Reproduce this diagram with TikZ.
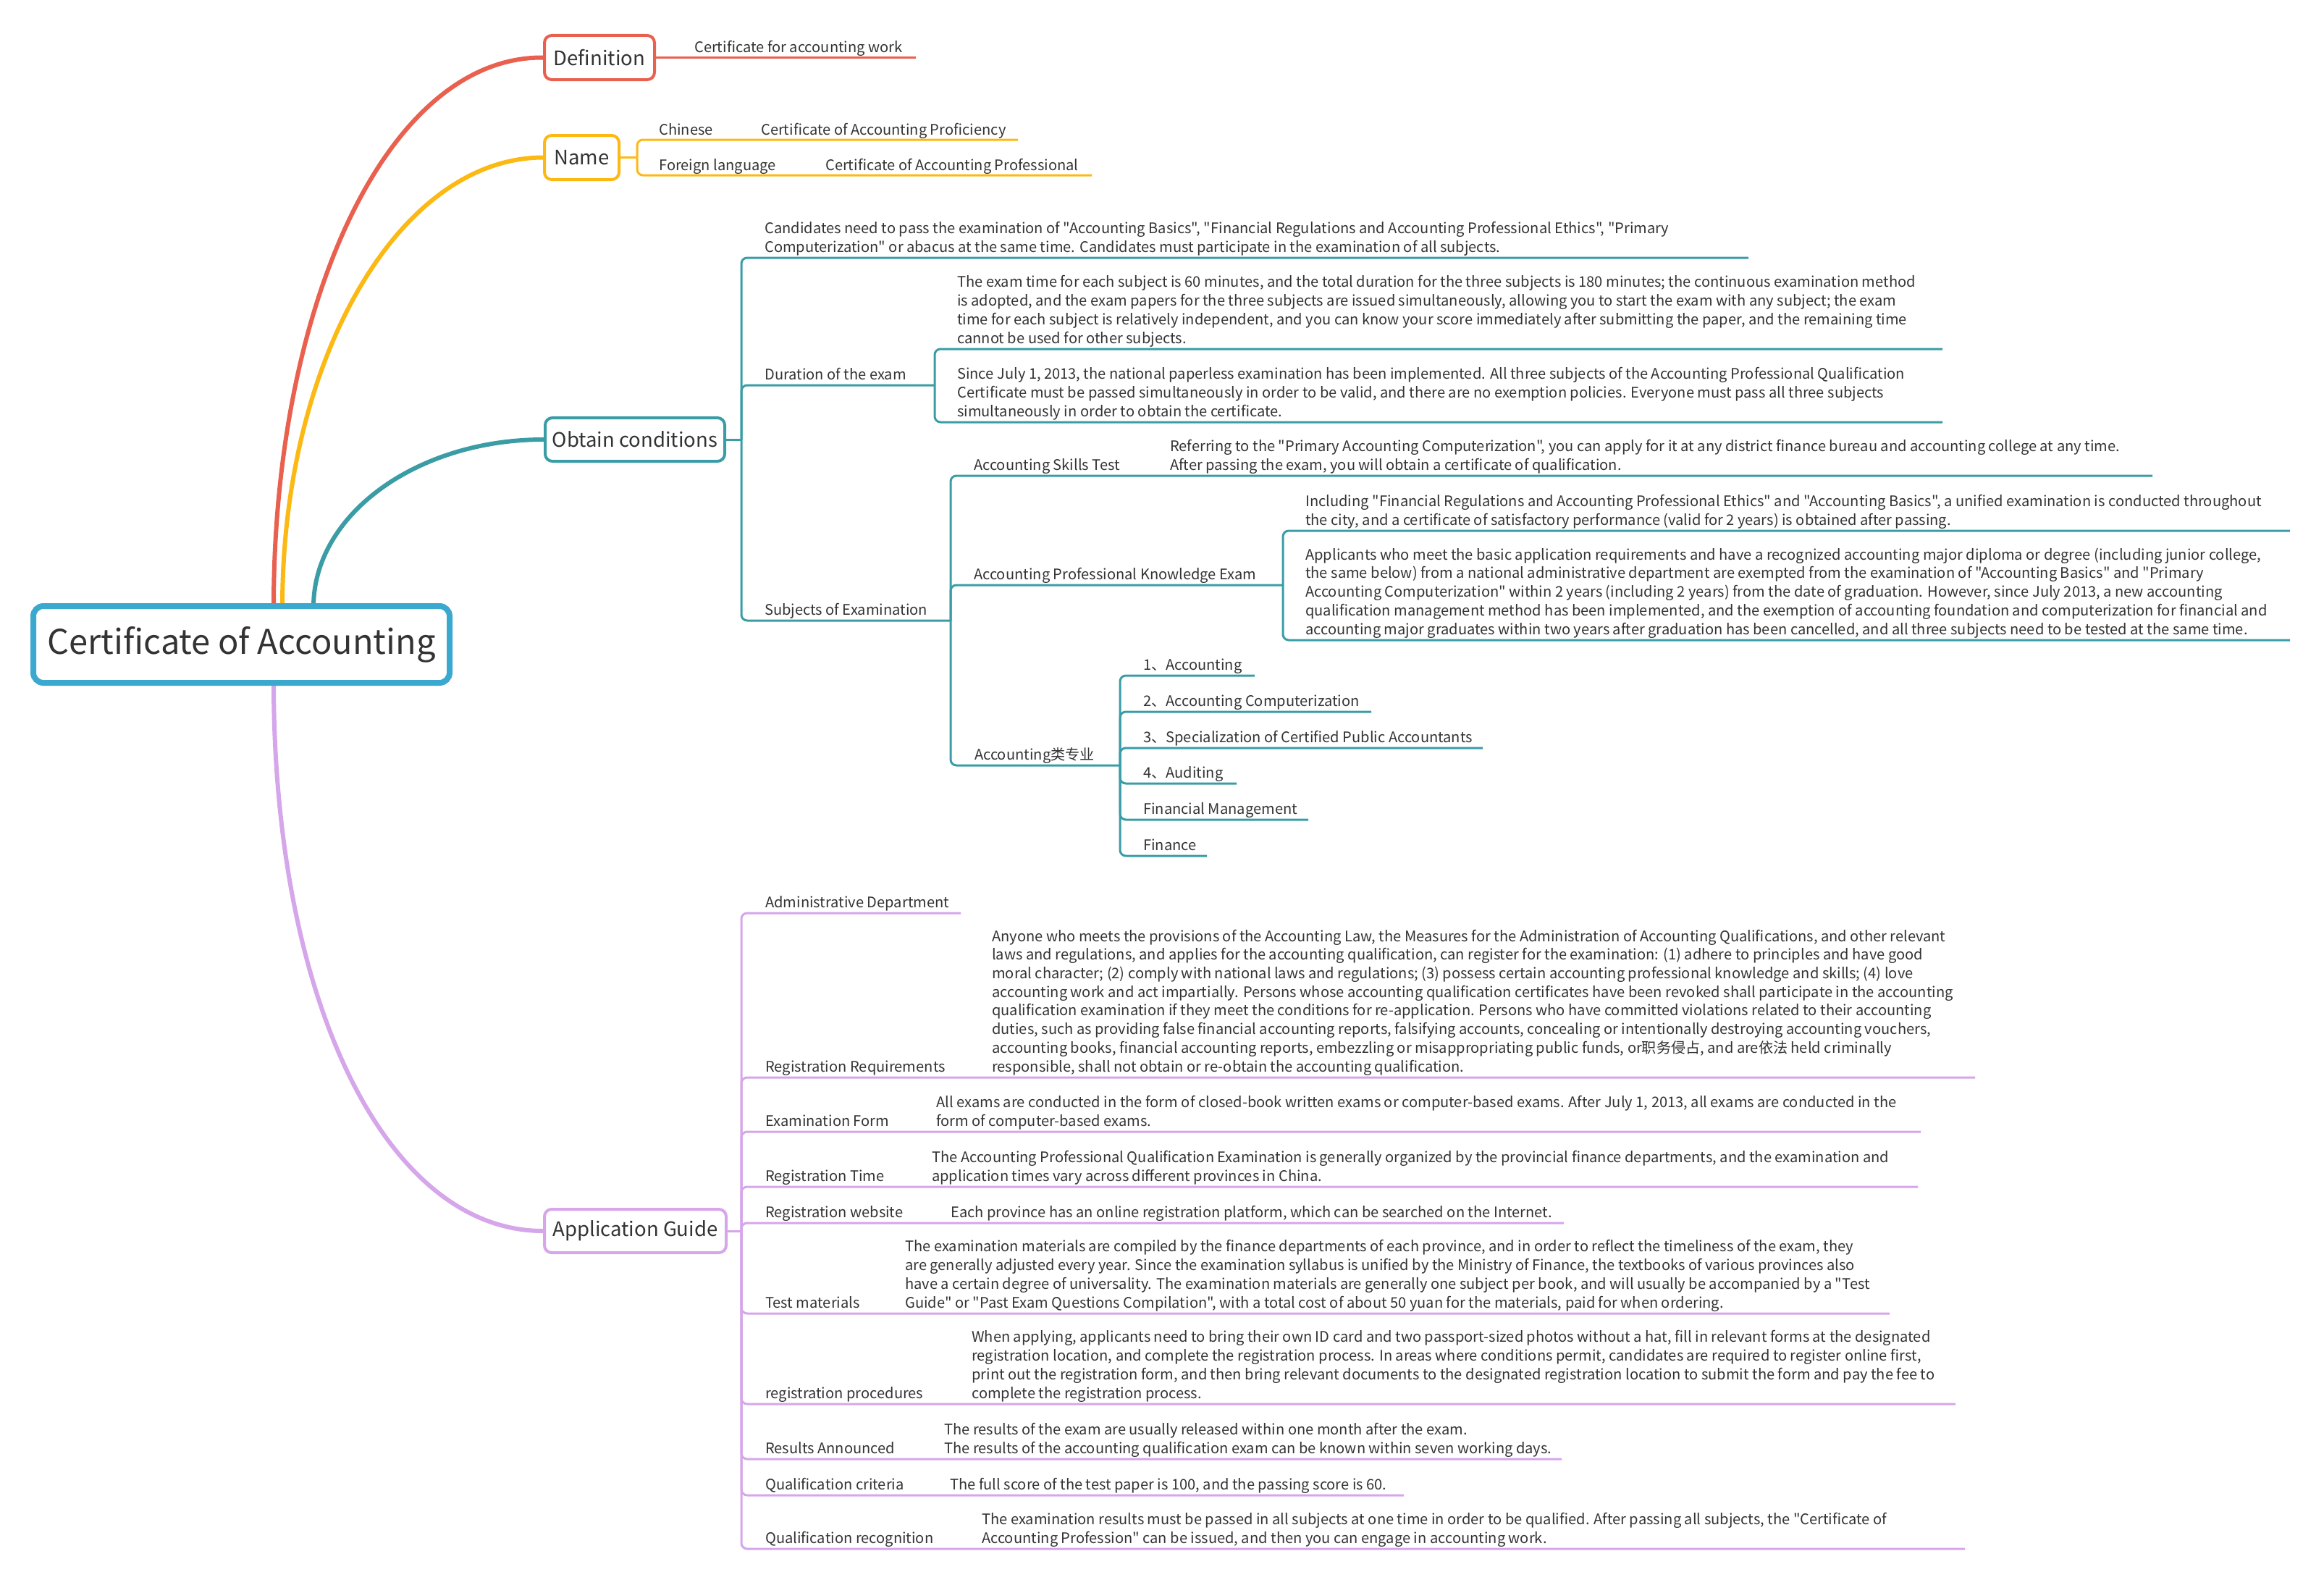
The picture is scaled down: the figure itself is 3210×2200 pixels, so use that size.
\documentclass[tikz,border=0pt]{standalone}
\usepackage{fontspec}
\newfontfamily\nsc{Noto Sans CJK SC}
\usetikzlibrary{backgrounds}
\definecolor{cred}{HTML}{E9604F}
\definecolor{corange}{HTML}{FDB913}
\definecolor{cteal}{HTML}{3A9DA6}
\definecolor{cblue}{HTML}{3BA9CF}
\definecolor{cpurple}{HTML}{D6A6EA}
\definecolor{ctext}{HTML}{333333}
\tikzset{
  txt/.style={anchor=base west, inner sep=0, yshift=-3pt, text=ctext, font=\nsc\fontsize{20.1}{25.7}\selectfont, align=left},
  ttl/.style={draw, line width=4, rounded corners=10, fill=white, text=ctext, font=\nsc\fontsize{27.5}{33}\selectfont, inner sep=0},
  ln/.style={line width=3, rounded corners=8},
  branch/.style={line width=6, line cap=round},
}
\begin{document}
\begin{tikzpicture}[x=1pt, y=-1pt]
\useasboundingbox (0,0) rectangle (3210,2200);
% ---------- root and main boxes
\node[draw=cblue, line width=8, rounded corners=14, fill=white, minimum width=575, minimum height=106, inner sep=0, font=\nsc\fontsize{47}{56}\selectfont, text=ctext] (root) at (333.5,890) {Certificate of Accounting};
\node[ttl, draw=cred, minimum width=152, minimum height=61] (def) at (828,79.5) {Definition};
\node[ttl, draw=corange, minimum width=103, minimum height=61] (name) at (803.5,217.5) {Name};
\node[ttl, draw=cteal, minimum width=248, minimum height=60] (oc) at (877,607) {Obtain conditions};
\node[ttl, draw=cpurple, minimum width=251, minimum height=60] (ag) at (877.5,1700) {Application Guide};
% root branch starts
\coordinate (r-def) at (378,838);
\coordinate (r-name) at (390,838);
\coordinate (r-oc) at (433,838);
\coordinate (r-ag) at (378,942);
\begin{scope}[on background layer]
\draw[branch, cred] (r-def) .. controls (378,419) and (535,78) .. (def.west);
\draw[branch, corange] (r-name) .. controls (390,496) and (551,218) .. (name.west);
\draw[branch, cteal] (r-oc) .. controls (433,711) and (575,607) .. (oc.west);
\draw[branch, cpurple] (r-ag) .. controls (378,1384) and (534,1700) .. (ag.west);
\end{scope}
% ---------- Definition
\node[txt] (defl) at (959,70) {Certificate for accounting work};
\coordinate (defl-e) at (1265,79.5);
\draw[ln, cred] (def.east) -- (defl-e);
% ---------- Name
\coordinate (nm-j) at (880,217.5);
\coordinate (nm1-e) at (1406,193);
\coordinate (nm2-e) at (1508,242);
\draw[ln, corange] (name.east) -- (nm-j);
\draw[ln, corange] (nm-j) |- (nm1-e);
\draw[ln, corange] (nm-j) |- (nm2-e);
\node[txt] (nm1) at (910,183) {Chinese};
\node[txt] (nm1c) at (1051,183) {Certificate of Accounting Proficiency};
\node[txt] (nm2) at (910,232) {Foreign language};
\node[txt] (nm2c) at (1140,232) {Certificate of Accounting Professional};
% ---------- Obtain conditions
\coordinate (oc-j) at (1024,607);
\coordinate (cand-e) at (2415,356);
\coordinate (dur-j) at (1291,532);
\coordinate (dura-e) at (2683,482);
\coordinate (durb-e) at (2683,583);
\coordinate (subj-j) at (1313,857);
\coordinate (sk-e) at (2973,657);
\coordinate (kn-j) at (1772,808);
\coordinate (kna-e) at (3163,733);
\coordinate (knb-e) at (3163,884);
\coordinate (acc-j) at (1547,1057);
\coordinate (m1-e) at (1733,933);
\coordinate (m2-e) at (1894,983);
\coordinate (m3-e) at (2048,1033);
\coordinate (m4-e) at (1708,1082);
\coordinate (m5-e) at (1807,1132);
\coordinate (m6-e) at (1667,1182);
\begin{scope}[ln, cteal]
\draw (oc.east) -- (oc-j);
\draw (oc-j) |- (cand-e);
\draw (oc-j) |- (dur-j);
\draw (dur-j) |- (dura-e);
\draw (dur-j) |- (durb-e);
\draw (oc-j) |- (subj-j);
\draw (subj-j) |- (sk-e);
\draw (subj-j) |- (kn-j);
\draw (kn-j) |- (kna-e);
\draw (kn-j) |- (knb-e);
\draw (subj-j) |- (acc-j);
\draw (acc-j) |- (m1-e);
\draw (acc-j) |- (m2-e);
\draw (acc-j) |- (m3-e);
\draw (acc-j) |- (m4-e);
\draw (acc-j) |- (m5-e);
\draw (acc-j) |- (m6-e);
\end{scope}
\node[txt] (cand) at (1056,345) {Candidates need to pass the examination of "Accounting Basics", "Financial Regulations and Accounting Professional Ethics", "Primary\\Computerization" or abacus at the same time. Candidates must participate in the examination of all subjects.};
\node[txt] (dur) at (1056,521) {Duration of the exam};
\node[txt] (dura) at (1322,471) {The exam time for each subject is 60 minutes, and the total duration for the three subjects is 180 minutes; the continuous examination method\\is adopted, and the exam papers for the three subjects are issued simultaneously, allowing you to start the exam with any subject; the exam\\time for each subject is relatively independent, and you can know your score immediately after submitting the paper, and the remaining time\\cannot be used for other subjects.};
\node[txt] (durb) at (1322,572) {Since July 1, 2013, the national paperless examination has been implemented. All three subjects of the Accounting Professional Qualification\\Certificate must be passed simultaneously in order to be valid, and there are no exemption policies. Everyone must pass all three subjects\\simultaneously in order to obtain the certificate.};
\node[txt] (subj) at (1056,846) {Subjects of Examination};
\node[txt] (sk) at (1345,646) {Accounting Skills Test};
\node[txt] (skc) at (1616,646) {Referring to the "Primary Accounting Computerization", you can apply for it at any district finance bureau and accounting college at any time.\\After passing the exam, you will obtain a certificate of qualification.};
\node[txt] (kn) at (1345,797) {Accounting Professional Knowledge Exam};
\node[txt] (kna) at (1803,722) {Including "Financial Regulations and Accounting Professional Ethics" and "Accounting Basics", a unified examination is conducted throughout\\the city, and a certificate of satisfactory performance (valid for 2 years) is obtained after passing.};
\node[txt] (knb) at (1803,873) {Applicants who meet the basic application requirements and have a recognized accounting major diploma or degree (including junior college,\\the same below) from a national administrative department are exempted from the examination of "Accounting Basics" and "Primary\\Accounting Computerization" within 2 years (including 2 years) from the date of graduation. However, since July 2013, a new accounting\\qualification management method has been implemented, and the exemption of accounting foundation and computerization for financial and\\accounting major graduates within two years after graduation has been cancelled, and all three subjects need to be tested at the same time.};
\node[txt] (acc) at (1346,1046) {Accounting类专业};
\node[txt] (m1) at (1579,922) {1、Accounting};
\node[txt] (m2) at (1579,972) {2、Accounting Computerization};
\node[txt] (m3) at (1579,1022) {3、Specialization of Certified Public Accountants};
\node[txt] (m4) at (1579,1071) {4、Auditing};
\node[txt] (m5) at (1579,1121) {Financial Management};
\node[txt] (m6) at (1579,1171) {Finance};
% ---------- Application Guide
\coordinate (ag-j) at (1024,1700);
\coordinate (a1-e) at (1327,1261);
\coordinate (a2-e) at (2728,1488);
\coordinate (a3-e) at (2653,1563);
\coordinate (a4-e) at (2649,1639);
\coordinate (a5-e) at (2160,1689);
\coordinate (a6-e) at (2610,1814);
\coordinate (a7-e) at (2701,1939);
\coordinate (a8-e) at (2157,2015);
\coordinate (a9-e) at (1939,2065);
\coordinate (a10-e) at (2714,2139);
\begin{scope}[ln, cpurple]
\draw (ag.east) -- (ag-j);
\draw (ag-j) |- (a1-e);
\draw (ag-j) |- (a2-e);
\draw (ag-j) |- (a3-e);
\draw (ag-j) |- (a4-e);
\draw (ag-j) |- (a5-e);
\draw (ag-j) |- (a6-e);
\draw (ag-j) |- (a7-e);
\draw (ag-j) |- (a8-e);
\draw (ag-j) |- (a9-e);
\draw (ag-j) |- (a10-e);
\end{scope}
\node[txt] (a1) at (1057,1250) {Administrative Department};
\node[txt] (a2) at (1057,1477) {Registration Requirements};
\node[txt] (a2c) at (1370,1477) {Anyone who meets the provisions of the Accounting Law, the Measures for the Administration of Accounting Qualifications, and other relevant\\laws and regulations, and applies for the accounting qualification, can register for the examination: (1) adhere to principles and have good\\moral character; (2) comply with national laws and regulations; (3) possess certain accounting professional knowledge and skills; (4) love\\accounting work and act impartially. Persons whose accounting qualification certificates have been revoked shall participate in the accounting\\qualification examination if they meet the conditions for re-application. Persons who have committed violations related to their accounting\\duties, such as providing false financial accounting reports, falsifying accounts, concealing or intentionally destroying accounting vouchers,\\accounting books, financial accounting reports, embezzling or misappropriating public funds, or职务侵占, and are依法 held criminally\\responsible, shall not obtain or re-obtain the accounting qualification.};
\node[txt] (a3) at (1057,1552) {Examination Form};
\node[txt] (a3c) at (1293,1552) {All exams are conducted in the form of closed-book written exams or computer-based exams. After July 1, 2013, all exams are conducted in the\\form of computer-based exams.};
\node[txt] (a4) at (1057,1628) {Registration Time};
\node[txt] (a4c) at (1287,1628) {The Accounting Professional Qualification Examination is generally organized by the provincial finance departments, and the examination and\\application times vary across different provinces in China.};
\node[txt] (a5) at (1057,1678) {Registration website};
\node[txt] (a5c) at (1313,1678) {Each province has an online registration platform, which can be searched on the Internet.};
\node[txt] (a6) at (1057,1803) {Test materials};
\node[txt] (a6c) at (1250,1803) {The examination materials are compiled by the finance departments of each province, and in order to reflect the timeliness of the exam, they\\are generally adjusted every year. Since the examination syllabus is unified by the Ministry of Finance, the textbooks of various provinces also\\have a certain degree of universality. The examination materials are generally one subject per book, and will usually be accompanied by a "Test\\Guide" or "Past Exam Questions Compilation", with a total cost of about 50 yuan for the materials, paid for when ordering.};
\node[txt] (a7) at (1057,1928) {registration procedures};
\node[txt] (a7c) at (1342,1928) {When applying, applicants need to bring their own ID card and two passport-sized photos without a hat, fill in relevant forms at the designated\\registration location, and complete the registration process. In areas where conditions permit, candidates are required to register online first,\\print out the registration form, and then bring relevant documents to the designated registration location to submit the form and pay the fee to\\complete the registration process.};
\node[txt] (a8) at (1057,2004) {Results Announced};
\node[txt] (a8c) at (1304,2004) {The results of the exam are usually released within one month after the exam.\\The results of the accounting qualification exam can be known within seven working days.};
\node[txt] (a9) at (1057,2054) {Qualification criteria};
\node[txt] (a9c) at (1312,2054) {The full score of the test paper is 100, and the passing score is 60.};
\node[txt] (a10) at (1057,2128) {Qualification recognition};
\node[txt] (a10c) at (1356,2128) {The examination results must be passed in all subjects at one time in order to be qualified. After passing all subjects, the "Certificate of\\Accounting Profession" can be issued, and then you can engage in accounting work.};
\end{tikzpicture}
\end{document}
